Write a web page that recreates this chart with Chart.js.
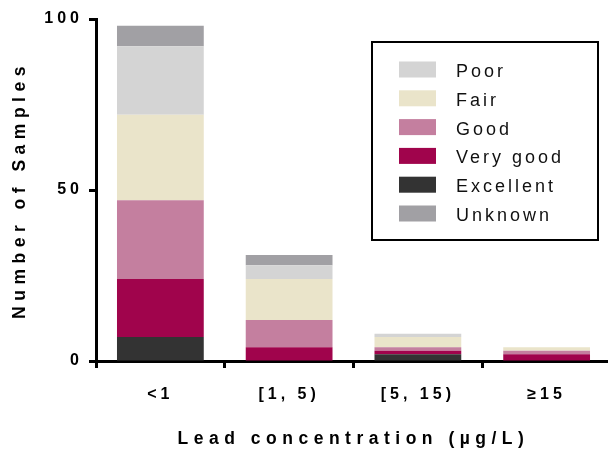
<!DOCTYPE html>
<html lang="en">
<head>
    <meta charset="UTF-8">
    <title>Lead concentration by water quality</title>
    <script src="https://cdn.jsdelivr.net/npm/chart.js@4.4.1/dist/chart.umd.min.js"></script>
    <style>
        body {
            margin: 0;
            padding: 0;
            background: #fff;
            overflow: hidden;
        }
        .wrap {
            width: 608px;
            height: 452px;
            overflow: hidden;
        }
    </style>
</head>
<body>
    <div class="wrap">
        <canvas id="leadChart" width="614" height="452"></canvas>
    </div>

    <script>
        // data
        const categories = ['<1', '[1, 5)', '[5, 15)', '\u226515'];
        const excellent = [7, 0, 2, 0];
        const veryGood = [17, 4, 1, 2];
        const good = [23, 8, 1, 1];
        const fair = [25, 12, 3, 1];
        const poor = [20, 4, 1, 0];
        const unknown = [6, 3, 0, 0];
        const yTicks = [0, 50, 100];
        const legendOrder = ['Poor', 'Fair', 'Good', 'Very good', 'Excellent', 'Unknown'];

        const FONT = "'Liberation Sans', Arial, sans-serif";
        const TICK_SPACING = '4px';
        const TITLE_SPACING = '5.5px';

        // canvas letter spacing (gets reset whenever the canvas is resized)
        const spacingPlugin = {
            id: 'spacing',
            beforeUpdate(chart) { chart.ctx.letterSpacing = TICK_SPACING; },
            beforeDraw(chart) { chart.ctx.letterSpacing = TICK_SPACING; }
        };

        // axis titles are spaced a bit wider than the tick labels
        function widenTitle(scale) {
            if (scale._wideTitle) return;
            scale._wideTitle = true;
            const orig = scale.drawTitle.bind(scale);
            scale.drawTitle = function () {
                const c = scale.ctx;
                const prev = c.letterSpacing;
                c.letterSpacing = TITLE_SPACING;
                orig();
                c.letterSpacing = prev;
            };
        }

        // boxed legend inside the plot
        const boxLegend = {
            id: 'boxLegend',
            afterDraw(chart) {
                const ctx = chart.ctx;
                ctx.save();
                ctx.strokeStyle = '#000';
                ctx.lineWidth = 2;
                ctx.strokeRect(372, 42, 226, 198);
                ctx.font = '18px ' + FONT;
                ctx.letterSpacing = '3px';
                ctx.textBaseline = 'middle';
                legendOrder.forEach((name, i) => {
                    const ds = chart.data.datasets.find(d => d.label === name);
                    const cy = 69.5 + i * 28.8;
                    ctx.fillStyle = ds.backgroundColor;
                    ctx.fillRect(399, cy - 8, 37, 16);
                    ctx.fillStyle = '#111';
                    ctx.fillText(name, 456, cy + 2.5);
                });
                ctx.restore();
            }
        };

        const ctx = document.getElementById('leadChart').getContext('2d');
        new Chart(ctx, {
            type: 'bar',
            data: {
                labels: categories,
                datasets: [
                    { label: 'Excellent', data: excellent, backgroundColor: '#333333' },
                    { label: 'Very good', data: veryGood, backgroundColor: '#a0044c' },
                    { label: 'Good', data: good, backgroundColor: '#c47f9f' },
                    { label: 'Fair', data: fair, backgroundColor: '#eae4ca' },
                    { label: 'Poor', data: poor, backgroundColor: '#d4d4d4' },
                    { label: 'Unknown', data: unknown, backgroundColor: '#a1a0a4' }
                ]
            },
            options: {
                responsive: false,
                animation: false,
                devicePixelRatio: 1,
                layout: {
                    padding: { left: 0, top: 19, right: 3, bottom: 0 }
                },
                datasets: {
                    bar: {
                        barPercentage: 0.674,
                        categoryPercentage: 1,
                        borderWidth: 0
                    }
                },
                plugins: {
                    legend: { display: false },
                    tooltip: { enabled: false }
                },
                scales: {
                    x: {
                        stacked: true,
                        afterFit(scale) { scale.height = 91; widenTitle(scale); },
                        border: { color: '#000', width: 3 },
                        grid: {
                            drawOnChartArea: false,
                            drawTicks: true,
                            tickLength: 7,
                            tickWidth: 3,
                            color: '#000'
                        },
                        ticks: {
                            color: '#000',
                            font: { family: FONT, size: 16, weight: 'bold' },
                            padding: 17,
                            autoSkip: false,
                            maxRotation: 0
                        },
                        title: {
                            display: true,
                            text: 'Lead concentration (\u00b5g/L)',
                            color: '#000',
                            font: { family: FONT, size: 17.5, weight: 'bold' },
                            padding: { top: 0, bottom: 2 }
                        }
                    },
                    y: {
                        stacked: true,
                        min: 0,
                        max: 100,
                        afterFit(scale) { scale.width = 96; widenTitle(scale); },
                        afterBuildTicks(scale) {
                            scale.ticks = yTicks.map(v => ({ value: v }));
                        },
                        border: { color: '#000', width: 3 },
                        grid: {
                            drawOnChartArea: false,
                            drawTicks: true,
                            tickLength: 7,
                            tickWidth: 3,
                            color: '#000'
                        },
                        ticks: {
                            color: '#000',
                            font: { family: FONT, size: 16, weight: 'bold' },
                            padding: 6
                        },
                        title: {
                            display: true,
                            text: 'Number of Samples',
                            color: '#000',
                            font: { family: FONT, size: 17.5, weight: 'bold' },
                            padding: { top: 10, bottom: 0 }
                        }
                    }
                }
            },
            plugins: [spacingPlugin, boxLegend]
        });
    </script>
</body>
</html>
